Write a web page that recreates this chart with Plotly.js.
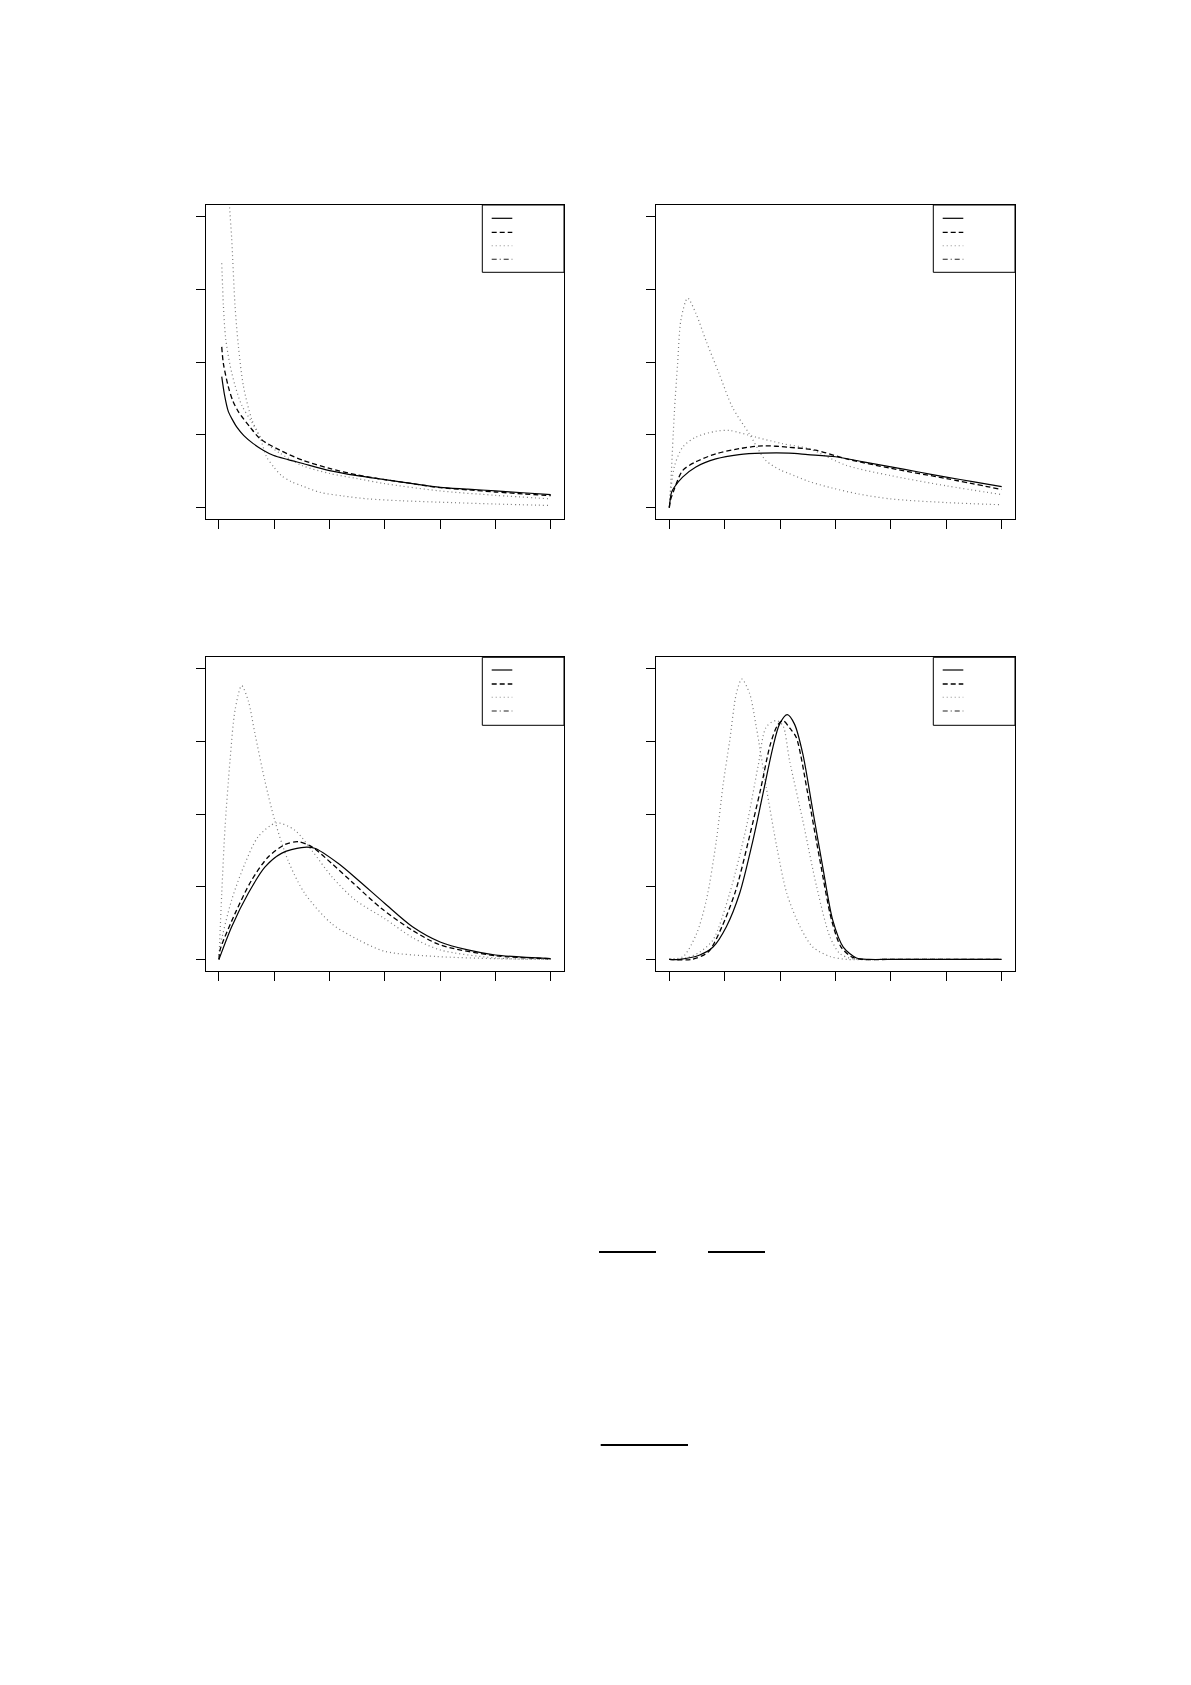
<!DOCTYPE html>
<html>
<head>
<meta charset="utf-8">
<script src="https://cdn.plot.ly/plotly-3.0.1.min.js"></script>
<style>html,body{margin:0;padding:0;background:#fff;}#chart{width:1191px;height:1685px;}</style>
</head>
<body>
<div id="chart"></div>
<script>
// ---- data ----
const xTicks = [0, 1, 2, 3, 4, 5, 6];
const yTicks = [0, 1, 2, 3, 4];

// Panel 1 (top-left)
const p1SolidX = [0.05,0.1,0.17,0.25,0.32,0.45,0.62,0.8,0.98,1.25,1.5,2,2.5,3,3.5,4,4.5,5,5.5,6];
const p1SolidY = [1.80,1.55,1.32,1.20,1.11,0.99,0.88,0.79,0.72,0.66,0.61,0.51,0.44,0.385,0.33,0.28,0.255,0.23,0.205,0.18];
const p1DashX = [0.05,0.08,0.17,0.25,0.35,0.56,0.74,1.1,1.52,2,2.5,3,3.5,4,4.5,5,5.5,6];
const p1DashY = [2.21,1.98,1.66,1.47,1.32,1.11,0.95,0.79,0.65,0.54,0.45,0.385,0.33,0.275,0.245,0.215,0.19,0.165];
const p1DotX = [0.12,0.19,0.23,0.29,0.35,0.44,0.59,0.75,0.86,1.0,1.13,1.3,1.5,1.83,2.25,2.7,3.3,3.93,5,6];
const p1DotY = [5.5,4.16,3.70,2.78,2.23,1.68,1.22,0.95,0.70,0.55,0.44,0.36,0.30,0.21,0.16,0.12,0.095,0.077,0.05,0.03];
const p1DotDashX = [0.05,0.08,0.12,0.2,0.29,0.41,0.59,0.8,1.1,1.5,2,2.5,3,4,5,6];
const p1DotDashY = [3.36,2.78,2.33,1.96,1.68,1.41,1.18,0.92,0.75,0.58,0.47,0.40,0.33,0.23,0.17,0.12];

// Panel 2 (top-right)
const p2SolidX = [0,0.04,0.09,0.24,0.48,0.84,1.26,1.68,2.16,2.5,3,3.5,4,4.5,5,5.5,6];
const p2SolidY = [0,0.21,0.28,0.42,0.56,0.67,0.73,0.75,0.75,0.73,0.70,0.63,0.56,0.49,0.42,0.355,0.29];
const p2DashX = [0,0.02,0.06,0.24,0.48,0.84,1.26,1.68,2.16,2.64,3.2,4,5,6];
const p2DashY = [0,0.1,0.19,0.51,0.63,0.74,0.81,0.85,0.83,0.79,0.67,0.54,0.40,0.25];
const p2DotX = [0,0.03,0.09,0.15,0.21,0.33,0.48,0.66,0.9,1.14,1.44,1.74,2,2.16,2.52,2.94,3.4,4,5,6];
const p2DotY = [0,0.38,1.29,1.98,2.58,2.88,2.67,2.30,1.84,1.38,1.02,0.65,0.52,0.47,0.36,0.27,0.19,0.12,0.07,0.04];
const p2DotDashX = [0,0.01,0.09,0.24,0.48,0.84,1.09,1.56,2.04,2.52,3.2,4,5,6];
const p2DotDashY = [0,0.1,0.56,0.83,0.97,1.05,1.06,0.97,0.88,0.81,0.58,0.44,0.30,0.18];

// Panel 3 (bottom-left)
const p3SolidX = [0,0.23,0.53,0.83,1.13,1.49,1.73,2.16,2.52,3.0,3.5,4,4.5,5,6];
const p3SolidY = [0,0.45,0.91,1.27,1.46,1.54,1.53,1.32,1.09,0.77,0.45,0.24,0.13,0.06,0.01];
const p3DashX = [0,0.02,0.29,0.59,0.89,1.19,1.43,1.68,2.04,2.40,2.94,3.5,4,5,6];
const p3DashY = [0,0.13,0.63,1.09,1.41,1.58,1.62,1.55,1.32,1.07,0.70,0.40,0.20,0.05,0.01];
const p3DotX = [0,0.05,0.11,0.2,0.29,0.41,0.53,0.65,0.83,1.01,1.25,1.55,2.04,2.52,3.0,3.93,5,6];
const p3DotY = [0,0.91,1.82,2.74,3.43,3.77,3.56,3.11,2.46,1.91,1.36,0.91,0.49,0.27,0.11,0.04,0.01,0];
const p3DotDashX = [0,0.02,0.23,0.47,0.71,1.04,1.37,1.68,2.04,2.46,3.0,3.5,4,5,6];
const p3DotDashY = [0,0.17,0.82,1.32,1.69,1.88,1.78,1.50,1.14,0.82,0.56,0.30,0.13,0.02,0];

// Panel 4 (bottom-right)
const p4SolidX = [0,0.19,0.55,0.79,1.03,1.27,1.51,1.69,1.87,1.99,2.13,2.26,2.41,2.59,2.77,2.95,3.14,3.38,3.6,4,5,6];
const p4SolidY = [0,0,0.06,0.17,0.45,0.91,1.64,2.28,2.92,3.24,3.37,3.24,2.83,2.05,1.27,0.54,0.17,0.02,0,0,0,0];
const p4DashX = [0,0.4,0.7,0.95,1.2,1.45,1.65,1.82,1.95,2.05,2.18,2.29,2.5,2.72,2.93,3.1,3.3,3.5,4,5,6];
const p4DashY = [0,0,0.1,0.45,0.95,1.7,2.35,2.95,3.22,3.29,3.18,3.06,2.28,1.36,0.54,0.17,0.03,0,0,0,0];
const p4DotX = [0,0.25,0.49,0.67,0.85,0.97,1.09,1.21,1.31,1.45,1.57,1.75,1.94,2.12,2.36,2.59,2.9,3.2,4,5,6];
const p4DotY = [0,0.04,0.35,0.82,1.64,2.4,3.01,3.66,3.86,3.66,3.2,2.37,1.55,0.91,0.45,0.17,0.04,0,0,0,0];
const p4DotDashX = [0,0.3,0.55,0.79,1.09,1.39,1.6,1.75,1.93,2.05,2.17,2.41,2.66,2.9,3.08,3.3,4,5,6];
const p4DotDashY = [0,0.02,0.1,0.27,0.91,1.82,2.65,3.2,3.29,3.22,2.74,1.91,1.0,0.31,0.08,0.01,0,0,0];

// ---- styling / layout ----
const W = 1191, H = 1685;
const px = v => v / W;
const py = v => 1 - v / H;

const panels = [
  {xa:'x',  ya:'y',  s:[p1SolidX,p1SolidY], d:[p1DashX,p1DashY], o:[p1DotX,p1DotY], dd:[p1DotDashX,p1DotDashY]},
  {xa:'x2', ya:'y2', s:[p2SolidX,p2SolidY], d:[p2DashX,p2DashY], o:[p2DotX,p2DotY], dd:[p2DotDashX,p2DotDashY]},
  {xa:'x3', ya:'y3', s:[p3SolidX,p3SolidY], d:[p3DashX,p3DashY], o:[p3DotX,p3DotY], dd:[p3DotDashX,p3DotDashY]},
  {xa:'x4', ya:'y4', s:[p4SolidX,p4SolidY], d:[p4DashX,p4DashY], o:[p4DotX,p4DotY], dd:[p4DotDashX,p4DotDashY]}
];

const traces = [];
panels.forEach(p => {
  const base = {type:'scatter', mode:'lines', xaxis:p.xa, yaxis:p.ya, hoverinfo:'skip', showlegend:false};
  traces.push(Object.assign({}, base, {x:p.o[0], y:p.o[1], line:{color:'#7a7a7a', width:1.2, dash:'1px,3px', shape:'spline', smoothing:0.8}}));
  traces.push(Object.assign({}, base, {x:p.dd[0], y:p.dd[1], line:{color:'#7a7a7a', width:1.2, dash:'1px,3px', shape:'spline', smoothing:0.8}}));
  traces.push(Object.assign({}, base, {x:p.d[0], y:p.d[1], line:{color:'#000', width:1.3, dash:'5px,3px', shape:'spline', smoothing:0.8}}));
  traces.push(Object.assign({}, base, {x:p.s[0], y:p.s[1], line:{color:'#000', width:1.2, shape:'spline', smoothing:0.8}}));
});

function xaxis(dom){
  return {domain:dom, range:[-0.24,6.24], tickvals:xTicks, showticklabels:false, ticks:'outside', ticklen:9,
    tickcolor:'#000', tickwidth:1, showline:true, mirror:true, linecolor:'#000', linewidth:1,
    showgrid:false, zeroline:false, fixedrange:true};
}
function yaxis(dom){
  return {domain:dom, range:[-0.16,4.16], tickvals:yTicks, showticklabels:false, ticks:'outside', ticklen:9,
    tickcolor:'#000', tickwidth:1, showline:true, mirror:true, linecolor:'#000', linewidth:1,
    showgrid:false, zeroline:false, fixedrange:true};
}

const colL = [px(205.7), px(564)], colR = [px(656), px(1015)];
const rowT = [py(519.3), py(205)], rowB = [py(971), py(657.3)];

// legend boxes (no text in the reference, only line samples)
const shapes = [];
const legends = [
  {x0:482.3, x1:564,  y0:205,   lx0:491.7, lx1:512.3, ly:[218.3,232.3,245.7,259.3], h:67.3},
  {x0:933.3, x1:1015, y0:205,   lx0:942.7, lx1:963.3, ly:[218.3,232.3,245.7,259.3], h:67.3},
  {x0:482.3, x1:564,  y0:657.3, lx0:491.7, lx1:512.3, ly:[670,684,697.3,711], h:68},
  {x0:933.3, x1:1015, y0:657.3, lx0:942.7, lx1:963.3, ly:[670,684,697.3,711], h:68}
];
const sampleStyles = [
  {color:'#000', width:1.2, dash:'solid'},
  {color:'#000', width:1.3, dash:'5px,3px'},
  {color:'#8a8a8a', width:1.1, dash:'1px,3px'},
  {color:'#222', width:1.1, dash:'5px,3px,1px,3px'}
];
legends.forEach(L => {
  shapes.push({type:'rect', xref:'paper', yref:'paper', x0:px(L.x0), x1:px(L.x1), y0:py(L.y0+L.h), y1:py(L.y0),
    line:{color:'#000', width:1}, fillcolor:'rgba(0,0,0,0)'});
  L.ly.forEach((yy, i) => {
    shapes.push({type:'line', xref:'paper', yref:'paper', x0:px(L.lx0), x1:px(L.lx1), y0:py(yy), y1:py(yy), line:sampleStyles[i]});
  });
});
// fraction bars from the page's formula area
shapes.push({type:'line', xref:'paper', yref:'paper', x0:px(599), x1:px(656), y0:py(1252), y1:py(1252), line:{color:'#000', width:2}});
shapes.push({type:'line', xref:'paper', yref:'paper', x0:px(708), x1:px(765), y0:py(1252), y1:py(1252), line:{color:'#000', width:2}});
shapes.push({type:'line', xref:'paper', yref:'paper', x0:px(600.7), x1:px(688), y0:py(1445), y1:py(1445), line:{color:'#000', width:2}});

const layout = {
  width:W, height:H, margin:{l:0, r:0, t:0, b:0}, paper_bgcolor:'#fff', plot_bgcolor:'#fff',
  showlegend:false,
  xaxis:xaxis(colL), yaxis:yaxis(rowT),
  xaxis2:Object.assign(xaxis(colR), {anchor:'y2'}), yaxis2:Object.assign(yaxis(rowT), {anchor:'x2'}),
  xaxis3:Object.assign(xaxis(colL), {anchor:'y3'}), yaxis3:Object.assign(yaxis(rowB), {anchor:'x3'}),
  xaxis4:Object.assign(xaxis(colR), {anchor:'y4'}), yaxis4:Object.assign(yaxis(rowB), {anchor:'x4'}),
  shapes:shapes
};
layout.xaxis.anchor = 'y'; layout.yaxis.anchor = 'x';

Plotly.newPlot('chart', traces, layout, {staticPlot:true, displayModeBar:false});
</script>
</body>
</html>
